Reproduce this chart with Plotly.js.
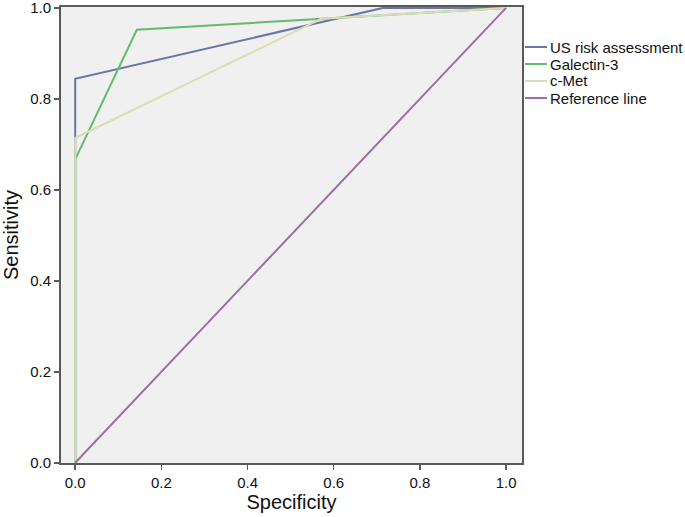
<!DOCTYPE html>
<html>
<head>
<meta charset="utf-8">
<script src="https://cdn.plot.ly/plotly-3.0.1.min.js"></script>
<style>html,body{margin:0;padding:0;background:#fff;}#chart{width:685px;height:517px;}</style>
</head>
<body>
<div id="chart"></div>
<script>
// Data
const seriesNames = ["US risk assessment", "Galectin-3", "c-Met", "Reference line"];
const usX = [0, 0, 0.714, 1];
const usY = [0, 0.844, 1, 1];
const galX = [0, 0, 0.143, 1];
const galY = [0, 0.667, 0.952, 1];
const cmetX = [0, 0, 0.571, 1];
const cmetY = [0, 0.714, 0.976, 1];
const refX = [0, 1];
const refY = [0, 1];
const tickVals = [0, 0.2, 0.4, 0.6, 0.8, 1.0];
const tickText = ["0.0", "0.2", "0.4", "0.6", "0.8", "1.0"];

const colors = ["#6a77a3", "#62bb6e", "#dcdcb6", "#9d6ca6"];
const xs = [usX, galX, cmetX, refX];
const ys = [usY, galY, cmetY, refY];

const FONT = "Liberation Sans, Arial, sans-serif";

const traces = seriesNames.map((n, i) => ({
  x: xs[i], y: ys[i], name: n, type: "scatter", mode: "lines",
  line: {color: colors[i], width: 2}, showlegend: false
}));

// Custom legend (text + short line samples) placed right of the plot
const W = 685, H = 517, ML = 61, MR = 163, MT = 7, MB = 54;
const plotW = W - ML - MR, plotH = H - MT - MB;
const pxToPaperX = px => (px - ML) / plotW;
const pxToPaperY = py => (H - MB - py) / plotH;
const legendTop = 47, legendStep = 17;
const shapes = [], annotations = [];
seriesNames.forEach((n, i) => {
  const cy = legendTop + i * legendStep;
  shapes.push({
    type: "line", xref: "paper", yref: "paper",
    x0: pxToPaperX(525), x1: pxToPaperX(547),
    y0: pxToPaperY(cy), y1: pxToPaperY(cy),
    line: {color: colors[i], width: 2}
  });
  annotations.push({
    xref: "paper", yref: "paper", x: pxToPaperX(548), y: pxToPaperY(cy),
    xanchor: "left", yanchor: "middle", showarrow: false, text: n,
    font: {family: FONT, size: 15, color: "#111"}
  });
});

const axisCommon = {
  showgrid: false, zeroline: false, showline: true, mirror: true,
  linecolor: "#5a5a5a", linewidth: 2, ticks: "outside", ticklen: 5,
  tickcolor: "#5a5a5a", tickwidth: 1.5,
  tickvals: tickVals, ticktext: tickText,
  ticklabeloverflow: "allow",
  tickfont: {family: FONT, size: 15, color: "#111"}
};

const layout = {
  width: W, height: H,
  margin: {l: ML, r: MR, t: MT, b: MB},
  paper_bgcolor: "#ffffff",
  plot_bgcolor: "#f0f0f0",
  showlegend: false,
  shapes: shapes,
  annotations: annotations,
  xaxis: Object.assign({}, axisCommon, {
    range: [-0.033, 1.037],
    title: {text: "Specificity", font: {family: FONT, size: 20, color: "#111"}, standoff: 4}
  }),
  yaxis: Object.assign({}, axisCommon, {
    range: [-0.0005, 1.002],
    title: {text: "Sensitivity", font: {family: FONT, size: 20, color: "#111"}, standoff: 6}
  })
};

Plotly.newPlot("chart", traces, layout, {displayModeBar: false, staticPlot: true});
</script>
</body>
</html>
